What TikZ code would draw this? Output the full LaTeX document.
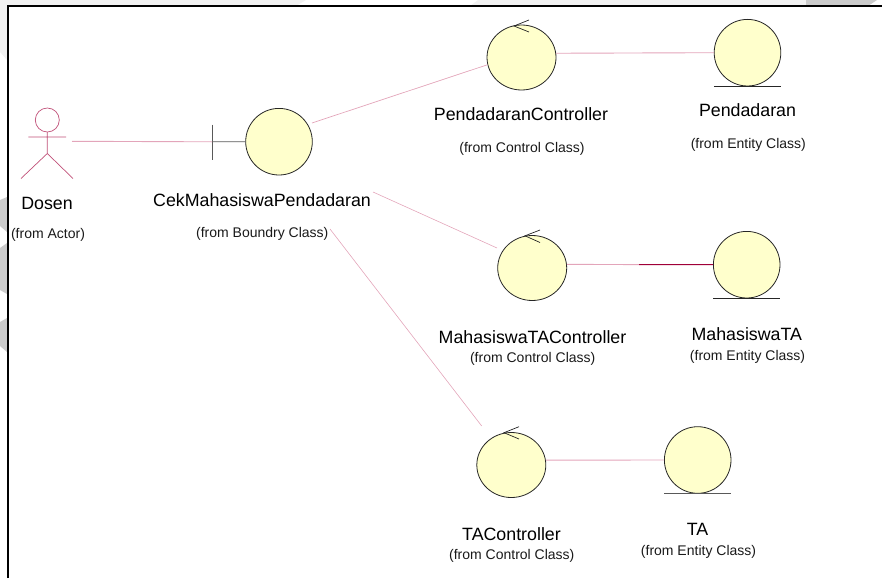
\documentclass[tikz,border=0pt]{standalone}
\usepackage{fontspec}
\setmainfont{Liberation Sans}
\usetikzlibrary{shapes.geometric}
\definecolor{robfill}{HTML}{FFFFCC}
\definecolor{linkpink}{HTML}{E3A5BA}
\definecolor{linkdark}{HTML}{A00038}
\definecolor{actorred}{HTML}{C05078}
\definecolor{wmlight}{HTML}{F1F1F1}
\definecolor{wmdark}{HTML}{CBCBCB}
\tikzset{
  ctrlbody/.style={draw=black!85,fill=robfill,ellipse,line width=.8pt,inner sep=0pt,minimum width=69pt,minimum height=65pt},
  robbody/.style={draw=black!85,fill=robfill,circle,line width=.8pt,inner sep=0pt,minimum size=66.6pt},
  bigtxt/.style={anchor=base,font=\fontsize{17.8}{20}\selectfont,text=black,inner sep=0pt},
  smalltxt/.style={anchor=base,font=\fontsize{14}{16}\selectfont,text=black!90,inner sep=0pt},
  link/.style={draw=linkpink,line width=.9pt},
  thinlink/.style={draw=linkpink,line width=.6pt},
  glyph/.style={draw=black!85,line width=.7pt},
  actorline/.style={draw=actorred,line width=.7pt}
}
\begin{document}
\begin{tikzpicture}[x=1pt,y=-1pt]
\useasboundingbox (0,0) rectangle (882,578);
% watermark remnants in the margins
\fill[wmlight] (0,0) -- (306,0) -- (296,6) -- (7,6) -- (7,60) -- (0,52) -- cycle;
\fill[wmlight] (478,0) -- (806,0) -- (806,6) -- (470,6) -- cycle;
\fill[wmdark] (806,0) -- (877,0) -- (868,6) -- (806,6) -- cycle;
\fill[wmdark] (0,200) -- (7,197) -- (7,232) -- (0,226) -- cycle;
\fill[wmdark] (0,248) -- (7,243) -- (7,294) -- (0,290) -- cycle;
\fill[wmdark] (0,322) -- (7,318) -- (7,352) -- (0,346) -- cycle;
% frame
\draw[black,line width=2pt] (7.5,578) -- (7.5,6.5) -- (882,6.5);
% actor
\draw[actorline] (47.3,120) circle (12);
\coordinate (neck) at (47.3,132);
\coordinate (hip) at (47.3,153.5);
\coordinate (armL) at (28.3,137);
\coordinate (armR) at (66,137);
\coordinate (legL) at (21,178.5);
\coordinate (legR) at (73,178.5);
\draw[actorline] (neck) -- (hip) (armL) -- (armR) (legL) -- (hip) -- (legR);
\coordinate (actorEnd) at (72,141.3);
% boundary
\node[robbody] (bnd) at (279,141.7) {};
\coordinate (barT) at (212,124.5);
\coordinate (barB) at (212,159.5);
\coordinate (barM) at (212,141.8);
\draw[draw=black!65,line width=.9pt] (barT) -- (barB);
\draw[draw=black!65,line width=.9pt] (barM) -- (bnd.west);
% controls
\node[ctrlbody] (cP) at (521.5,57.5) {};
\node[ctrlbody] (cM) at (532.2,268) {};
\node[ctrlbody] (cT) at (511.3,465) {};
\draw[glyph] (529,20) -- (514,26) -- (529,32);
\draw[glyph] (540,230) -- (525,235.8) -- (540,242.5);
\draw[glyph] (519,426.7) -- (504,432.7) -- (519,439);
% entities
\node[robbody] (eP) at (747.5,52.7) {};
\node[robbody] (eM) at (746.7,264.7) {};
\node[robbody] (eT) at (697.7,460) {};
\draw[glyph,line width=.8pt] (eP.west|-eP.south) -- (eP.east|-eP.south);
\draw[glyph,line width=.8pt] (eM.west|-eM.south) -- (eM.east|-eM.south);
\draw[glyph,draw=black!65,line width=.9pt] (eT.west|-eT.south) -- (eT.east|-eT.south);
% connectors
\coordinate (bP) at (312,123);
\coordinate (bM) at (373,192);
\coordinate (cMin) at (497,248);
\coordinate (bT) at (330,229);
\coordinate (cTin) at (481.7,426);
\coordinate (mid) at (639,264.6);
\draw[link] (actorEnd) -- (barM);
\draw[link,line width=.7pt] (bP) -- (cP.192);
\draw[link] (cP.7.5) -- (eP.west);
\draw[thinlink] (bM) -- (cMin);
\draw[thinlink] (bT) -- (cTin);
\draw[link] (cM.6) -- (mid);
\draw[draw=linkdark,line width=1pt] (mid) -- (eM.west);
\draw[link] (cT.8) -- (eT.west);
% labels
\node[bigtxt] (t1) at (47,209.5) {Dosen};
\node[smalltxt] (t2) at (48,238.7) {(from Actor)};
\node[bigtxt] (t3) at (262,206) {CekMahasiswaPendadaran};
\node[smalltxt] (t4) at (262.3,237) {(from Boundry Class)};
\node[bigtxt] (t5) at (521,120.7) {PendadaranController};
\node[smalltxt] (t6) at (522,152) {(from Control Class)};
\node[bigtxt] (t7) at (747.5,116.7) {Pendadaran};
\node[smalltxt] (t8) at (748.3,148) {(from Entity Class)};
\node[bigtxt] (t9) at (532.5,343.3) {MahasiswaTAController};
\node[smalltxt] (t10) at (532.7,362) {(from Control Class)};
\node[bigtxt] (t11) at (746.8,340) {MahasiswaTA};
\node[smalltxt] (t12) at (747.5,360.3) {(from Entity Class)};
\node[bigtxt] (t13) at (511.5,540) {TAController};
\node[smalltxt] (t14) at (511.8,559) {(from Control Class)};
\node[bigtxt] (t15) at (697.5,535.3) {TA};
\node[smalltxt] (t16) at (698.5,555) {(from Entity Class)};
\end{tikzpicture}
\end{document}
